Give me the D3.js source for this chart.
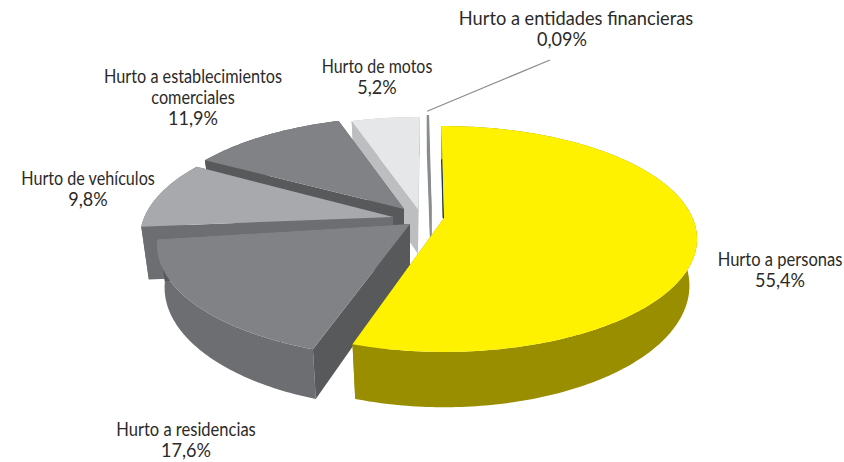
<!DOCTYPE html>
<html>
<head>
<meta charset="utf-8">
<script src="https://cdn.jsdelivr.net/npm/d3@7"></script>
<style>
body { margin: 0; background: #fff; }
text { font-family: Lato, "Liberation Sans", sans-serif; font-size: 19px; fill: #2b2a29; }
</style>
</head>
<body>
<div id="chart"></div>
<script>
const categories = ["Hurto a personas", "Hurto a residencias", "Hurto de vehículos",
    "Hurto a establecimientos comerciales", "Hurto de motos", "Hurto a entidades financieras"];
const values = [55.4, 17.6, 9.8, 11.9, 5.2, 0.09];

// how the labels wrap
const labelLines = [["Hurto a personas"], ["Hurto a residencias"], ["Hurto de vehículos"],
    ["Hurto a establecimientos", "comerciales"], ["Hurto de motos"], ["Hurto a entidades financieras"]];

// styling and layout, in the same order as categories
const topColors = ["#fff200", "#808285", "#a7a9ac", "#808285", "#e6e7e8", "#8a8c8e"];
const wallColors = ["#998d00", "#6d6e71", "#6d6e71", "#58595b", "#bcbec0", "#8a8c8e"];
const cutColors = ["#998d00", "#58595b", "#6d6e71", "#58595b", "#bcbec0", "#8a8c8e"];
const explode = [[0, 0], [-34, 6], [-51, -1], [-40, -9], [-26, -9], [-13, -11]];
const nudge = [0, 0, 0.05, 0.03, 0.025, 0];     // the original's slices are a bit off true angle
const endTrim = [0.02, 0, 0, 0, 0, 0];
const depths = [45, 41, 52, 45, 45, 45];
const labelAt = [[780, 266], [186, 436], [88, 185], [193, 83], [377, 73], [576, 25]];
const pctShift = [0, 0, 0, 0, 0, -14];
const nameSqueeze = [0.87, 0.87, 0.85, 0.855, 0.84, 0.96]; // labels use a condensed face in the original
const pctSqueeze = 0.95;
const drawOrder = [5, 4, 3, 2, 1, 0];

var width = 844, height = 462;
var cx = 444, cy = 218;       // where the pie's centre lands on screen
var f = 248.6, g = 109;       // horizontal and vertical radius
var k = 0.186;                // perspective
var shrink = 0.97;

var svg = d3.select("#chart").append("svg")
    .attr("width", width)
    .attr("height", height);

var pie = d3.pie().sort(null).value(d => d)
    .startAngle(-0.012)
    .endAngle(2 * Math.PI - 0.012);
var arcs = pie(values).map((d, i) => ({
    startAngle: d.startAngle + nudge[i],
    endAngle: d.endAngle + nudge[i] - endTrim[i]
}));

// angle clockwise from the back of the pie, r 0..1, low = bottom face
const project = (a, r, low, off, depth) => {
    var u = r * Math.sin(a), v = r * Math.cos(a);
    var s = 1 / (1 + k * v);
    return [
        cx + off[0] + f * u * s * (low ? shrink : 1),
        cy + off[1] - g * v * s + (low ? depth * s : 0)
    ];
};

const sampleAngles = (d) => {
    var n = Math.max(2, Math.ceil((d.endAngle - d.startAngle) * 60));
    return d3.range(n + 1).map(i => d.startAngle + (d.endAngle - d.startAngle) * i / n);
};

var line = d3.line();
const closed = pts => line(pts) + "Z";

drawOrder.forEach(i => {
    var d = arcs[i], off = explode[i], dp = depths[i];
    var g1 = svg.append("g").attr("class", "slice");
    var angles = sampleAngles(d);

    // outer wall
    var topEdge = angles.map(a => project(a, 1, false, off, dp));
    var lowEdge = angles.map(a => project(a, 1, true, off, dp));
    g1.append("path")
        .attr("d", closed(topEdge.concat(lowEdge.slice().reverse())))
        .attr("fill", wallColors[i]);

    // the two cut faces
    [d.startAngle, d.endAngle].forEach(a => {
        g1.append("path")
            .attr("d", closed([
                project(a, 1, false, off, dp), project(a, 0, false, off, dp),
                project(a, 0, true, off, dp), project(a, 1, true, off, dp)
            ]))
            .attr("fill", cutColors[i])
            .attr("stroke", i === 5 ? cutColors[i] : "none")
            .attr("stroke-width", i === 5 ? 1.2 : 0);
    });

    // navy sliver left of the big slice
    if (i === 0) {
        g1.append("path")
            .attr("d", line([project(d.startAngle, 0.6, false, [-0.6, 0], dp), project(d.startAngle, 0, false, [-0.6, 0], dp)]))
            .attr("stroke", "#1d3557")
            .attr("stroke-width", 1.5)
            .attr("fill", "none");
    }

    // top surface
    g1.append("path")
        .attr("d", closed([project(0, 0, false, off, dp)].concat(topEdge)))
        .attr("fill", topColors[i]);
});

// leader line to the smallest slice
svg.append("path")
    .attr("d", line([project(arcs[5].startAngle, 1.05, false, explode[5], 0), [550, 60]]))
    .attr("stroke", "#8a8c8e")
    .attr("stroke-width", 1.2)
    .attr("fill", "none");

// labels, one text per line
const addLine = (str, x, y, sx) => {
    svg.append("text")
        .attr("text-anchor", "middle")
        .attr("transform", "translate(" + x + "," + y + ") scale(" + sx + ",1)")
        .text(str);
};

categories.forEach((c, i) => {
    var lines = labelLines[i];
    lines.forEach((l, j) => addLine(l, labelAt[i][0], labelAt[i][1] + j * 20.5, nameSqueeze[i]));
    addLine(String(values[i]).replace(".", ",") + "%",
        labelAt[i][0] + pctShift[i], labelAt[i][1] + lines.length * 21, pctSqueeze);
});
</script>
</body>
</html>
